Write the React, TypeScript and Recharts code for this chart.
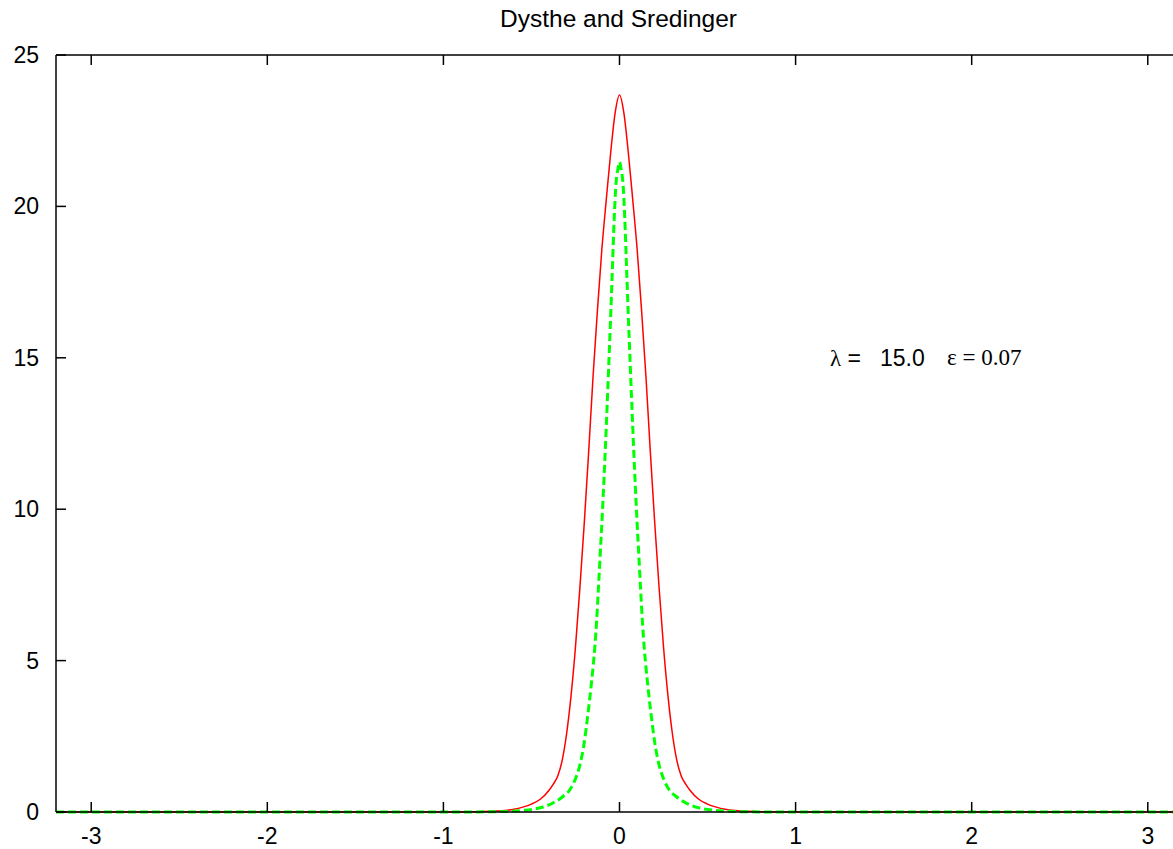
import React from 'react';
import { LineChart, Line, XAxis, YAxis, ReferenceLine } from 'recharts';

// values
const X_TICKS = [-3, -2, -1, 0, 1, 2, 3];
const Y_TICKS = [0, 5, 10, 15, 20, 25];

const RED_X = [
  -3.2, -1.0, -0.8, -0.7, -0.6, -0.55, -0.5, -0.45, -0.4, -0.375, -0.35, -0.325, -0.3, -0.275, -0.25, -0.225, -0.2, -0.175, -0.15, -0.125, -0.1, -0.075, -0.05, -0.025, 0,
  0.025, 0.05, 0.075, 0.1, 0.125, 0.15, 0.175, 0.2, 0.225, 0.25, 0.275, 0.3, 0.325, 0.35, 0.375, 0.4, 0.45, 0.5, 0.55, 0.6, 0.7, 0.8, 1.0, 3.2,
];
const RED_Y = [
  0, 0, 0.01, 0.03, 0.09, 0.16, 0.26, 0.42, 0.72, 0.93, 1.2, 1.72, 2.6, 3.85, 5.45, 7.4, 9.55, 11.9, 14.4, 16.6, 18.6, 20.23, 21.78, 23.08, 23.68,
  23.08, 21.78, 20.23, 18.6, 16.6, 14.4, 11.9, 9.55, 7.4, 5.45, 3.85, 2.6, 1.72, 1.2, 0.93, 0.72, 0.42, 0.26, 0.16, 0.09, 0.03, 0.01, 0, 0,
];

const GREEN_X = [
  -3.2, -0.9, -0.7, -0.55, -0.45, -0.37, -0.32, -0.28, -0.25, -0.225, -0.2, -0.18, -0.165, -0.15, -0.14, -0.13, -0.12, -0.11, -0.1, -0.09, -0.08, -0.07, -0.06, -0.05, -0.04, -0.03, -0.02, -0.01, 0,
  0.01, 0.02, 0.03, 0.04, 0.05, 0.06, 0.07, 0.08, 0.09, 0.1, 0.11, 0.12, 0.13, 0.14, 0.15, 0.165, 0.18, 0.2, 0.225, 0.25, 0.28, 0.32, 0.37, 0.45, 0.55, 0.7, 0.9, 3.2,
];
const GREEN_Y = [
  0, 0, 0.01, 0.05, 0.14, 0.32, 0.52, 0.75, 1.1, 1.55, 2.3, 3.2, 3.95, 4.8, 5.45, 6.3, 7.35, 8.45, 9.55, 10.75, 12.05, 13.45, 14.9, 16.4, 18.0, 19.6, 20.75, 21.2, 21.47,
  21.2, 20.75, 19.6, 18.0, 16.4, 14.9, 13.45, 12.05, 10.75, 9.55, 8.45, 7.35, 6.3, 5.45, 4.8, 3.95, 3.2, 2.3, 1.55, 1.1, 0.75, 0.52, 0.32, 0.14, 0.05, 0.01, 0, 0,
];

const redData = RED_X.map((x, i) => ({ x, y: RED_Y[i] }));
const greenData = GREEN_X.map((x, i) => ({ x, y: GREEN_Y[i] }));

const PLOT_TOP = 55;
const PLOT_BOTTOM = 812;
const PLOT_LEFT = 56;
const PLOT_RIGHT = 1183;
const FONT = '"Liberation Sans", Arial, sans-serif';
const SERIF = '"Liberation Serif", "Times New Roman", serif';

const XTick = (props: any) => {
  const { x, payload } = props;
  return (
    <g>
      <line x1={x} x2={x} y1={PLOT_BOTTOM} y2={PLOT_BOTTOM - 10} stroke="#000" strokeWidth={1.5} />
      <line x1={x} x2={x} y1={PLOT_TOP} y2={PLOT_TOP + 10} stroke="#000" strokeWidth={1.5} />
      <text x={x} y={844} textAnchor="middle" fontFamily={FONT} fontSize={23} fill="#000">
        {payload.value}
      </text>
    </g>
  );
};

const YTick = (props: any) => {
  const { y, payload } = props;
  return (
    <g>
      <line x1={PLOT_LEFT} x2={PLOT_LEFT + 10} y1={y} y2={y} stroke="#000" strokeWidth={1.5} />
      <line x1={PLOT_RIGHT} x2={PLOT_RIGHT - 10} y1={y} y2={y} stroke="#000" strokeWidth={1.5} />
      <text x={39} y={y + 8} textAnchor="end" fontFamily={FONT} fontSize={23} fill="#000">
        {payload.value}
      </text>
    </g>
  );
};

export default function App() {
  return (
    <div style={{ position: 'absolute', left: 0, top: 0, width: 1173, height: 849, overflow: 'hidden', background: '#fff' }}>
      <LineChart width={1210} height={849} margin={{ top: PLOT_TOP, right: 1210 - PLOT_RIGHT, left: 0, bottom: 0 }}>
        <XAxis
          dataKey="x"
          type="number"
          domain={[-3.2, 3.2]}
          ticks={X_TICKS}
          height={849 - PLOT_BOTTOM}
          axisLine={{ stroke: '#000', strokeWidth: 1.5 }}
          tickLine={false}
          tick={<XTick />}
          allowDuplicatedCategory={false}
        />
        <YAxis
          dataKey="y"
          type="number"
          domain={[0, 25]}
          ticks={Y_TICKS}
          width={PLOT_LEFT}
          axisLine={{ stroke: '#000', strokeWidth: 1.5 }}
          tickLine={false}
          tick={<YTick />}
        />
        <ReferenceLine y={25} stroke="#000" strokeWidth={1.5} />
        <ReferenceLine x={3.2} stroke="#000" strokeWidth={1.5} />
        <Line
          data={redData}
          dataKey="y"
          type="monotone"
          stroke="#ff0000"
          strokeWidth={1.5}
          dot={false}
          isAnimationActive={false}
        />
        <Line
          data={greenData}
          dataKey="y"
          type="monotone"
          stroke="#00ff00"
          strokeWidth={3}
          strokeDasharray="8 4"
          dot={false}
          isAnimationActive={false}
        />
      </LineChart>
      <div
        style={{
          position: 'absolute',
          left: 0,
          width: 1237,
          top: 5,
          textAlign: 'center',
          fontFamily: FONT,
          fontSize: 24.5,
          color: '#000',
        }}
      >
        Dysthe and Sredinger
      </div>
      <div style={{ position: 'absolute', left: 830, top: 345, fontSize: 23, color: '#000', whiteSpace: 'pre' }}>
        <span style={{ fontFamily: SERIF }}>λ</span>
        <span style={{ fontFamily: FONT }}>{' ='}</span>
      </div>
      <div style={{ position: 'absolute', left: 880, top: 345, fontSize: 23, color: '#000', fontFamily: FONT }}>
        15.0
      </div>
      <div style={{ position: 'absolute', left: 947, top: 345, fontSize: 23, color: '#000', fontFamily: SERIF, whiteSpace: 'pre' }}>
        ε = 0.07
      </div>
    </div>
  );
}
